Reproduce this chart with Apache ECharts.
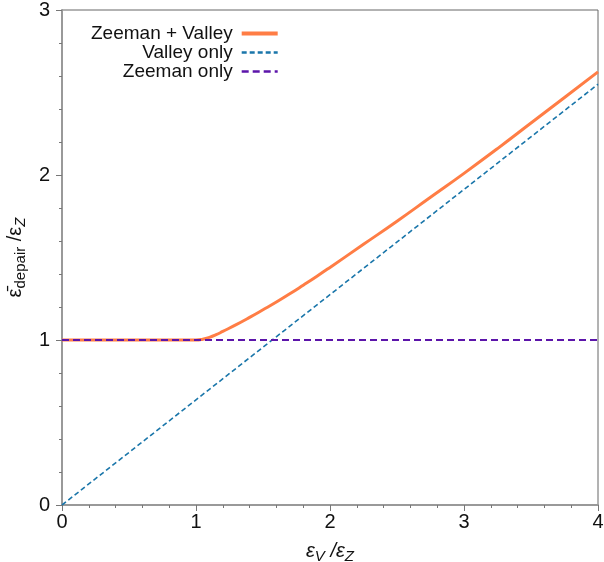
<!DOCTYPE html>
<html>
<head>
<meta charset="utf-8">
<script src="https://cdn.jsdelivr.net/npm/echarts@6/dist/echarts.min.js"></script>
<style>
  html, body { margin: 0; padding: 0; background: #fff; }
  #chart { width: 604px; height: 562px; }
</style>
</head>
<body>
<div id="chart"></div>
<script>
  // values
  var bothX = [0, 1.0, 1.05, 1.1, 1.15, 1.2, 1.3, 1.4, 1.5, 1.6, 1.7, 1.8, 1.9, 2.0, 2.25, 2.5, 2.75, 3.0, 3.25, 3.5, 3.75, 4.0];
  var bothY = [1, 1, 1.005, 1.016, 1.032, 1.052, 1.093, 1.137, 1.183, 1.23, 1.28, 1.332, 1.385, 1.44, 1.58, 1.72, 1.865, 2.01, 2.16, 2.315, 2.47, 2.625];
  var valleyX = [0, 4];
  var valleyY = [0, 2.55];
  var zeemanX = [0, 4];
  var zeemanY = [1, 1];
  var seriesNames = ['Zeeman + Valley', 'Valley only', 'Zeeman only'];

  function pairs(xs, ys) {
    return xs.map(function (x, i) { return [x, ys[i]]; });
  }

  var font = 'Liberation Sans, Arial, sans-serif';
  var chart = echarts.init(document.getElementById('chart'));
  chart.setOption({
    backgroundColor: '#fff',
    animation: false,
    grid: {
      left: 62,
      right: 6,
      top: 10,
      bottom: 57,
      outerBoundsMode: 'none',
      show: true,
      borderColor: '#666',
      borderWidth: 1
    },
    legend: {
      orient: 'vertical',
      left: 86,
      top: 19,
      align: 'right',
      itemWidth: 36,
      itemHeight: 10,
      itemGap: 0,
      itemStyle: { opacity: 0 },
      textStyle: { fontFamily: font, fontSize: 19, color: '#111', padding: [0, 4, 0, 0] },
      data: [
        { name: seriesNames[0], lineStyle: { width: 4 } },
        { name: seriesNames[1], lineStyle: { width: 2.5 } },
        { name: seriesNames[2], lineStyle: { width: 2.5 } }
      ]
    },
    xAxis: {
      type: 'value',
      min: 0,
      max: 4,
      interval: 1,
      name: '{e|ε}{s|V}{e| /ε}{s|Z}',
      nameLocation: 'middle',
      nameGap: 34,
      nameTextStyle: {
        rich: {
          e: { fontFamily: font, fontSize: 20, fontStyle: 'italic', color: '#111' },
          s: { fontFamily: font, fontSize: 15, fontStyle: 'italic', color: '#111', padding: [10, 0, 0, 0] }
        }
      },
      axisLine: { lineStyle: { color: '#999', width: 2 } },
      axisTick: { length: 6, lineStyle: { color: '#777' } },
      minorTick: { show: true, splitNumber: 5, length: 3, lineStyle: { color: '#777' } },
      splitLine: { show: false },
      axisLabel: { fontFamily: font, fontSize: 20, color: '#111', margin: 7 }
    },
    yAxis: {
      type: 'value',
      min: 0,
      max: 3,
      interval: 1,
      name: '{e|ε\u0304}{s|depair}{e| /ε}{z|Z}',
      nameLocation: 'middle',
      nameGap: 32,
      nameTextStyle: {
        rich: {
          e: { fontFamily: font, fontSize: 20, color: '#111' },
          s: { fontFamily: font, fontSize: 15, color: '#111', padding: [10, 0, 0, 0] },
          z: { fontFamily: font, fontSize: 15, fontStyle: 'italic', color: '#111', padding: [10, 0, 0, 0] }
        }
      },
      axisLine: { lineStyle: { color: '#999', width: 2 } },
      axisTick: { length: 6, lineStyle: { color: '#777' } },
      minorTick: { show: true, splitNumber: 5, length: 3, lineStyle: { color: '#777' } },
      splitLine: { show: false },
      axisLabel: { fontFamily: font, fontSize: 20, color: '#111', margin: 12 }
    },
    series: [
      {
        name: seriesNames[0],
        type: 'line',
        symbol: 'none',
        smooth: 0.5,
        color: '#ff7d45',
        lineStyle: { width: 3 },
        data: pairs(bothX, bothY)
      },
      {
        name: seriesNames[1],
        type: 'line',
        symbol: 'none',
        color: '#1a76aa',
        lineStyle: { width: 1.6, type: [5, 3] },
        data: pairs(valleyX, valleyY)
      },
      {
        name: seriesNames[2],
        type: 'line',
        symbol: 'none',
        color: '#5c15aa',
        lineStyle: { width: 2, type: [7, 4] },
        data: pairs(zeemanX, zeemanY)
      }
    ]
  });
</script>
</body>
</html>
